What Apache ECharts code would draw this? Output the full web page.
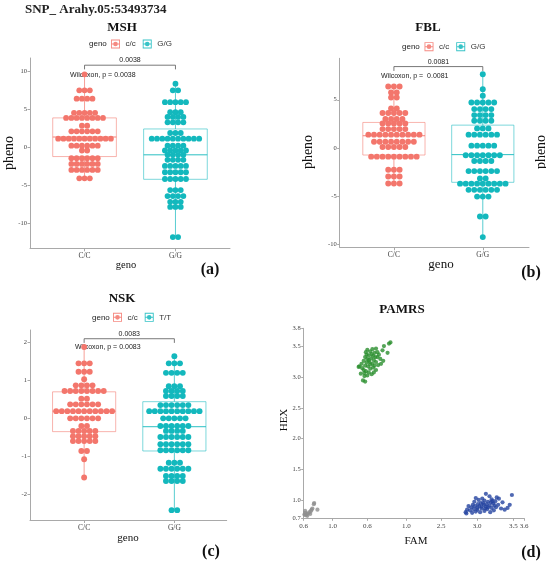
<!DOCTYPE html>
<html>
<head>
<meta charset="utf-8">
<script src="https://cdn.jsdelivr.net/npm/echarts@6/dist/echarts.min.js"></script>
<style>
  html, body { margin: 0; padding: 0; background: #fff; }
  #chart { width: 546px; height: 562px; }
</style>
</head>
<body>
<div id="chart"></div>
<script>
  // genotype groups sit at x = 1 and x = 2
  const genoLabels = ['C/C', 'G/G']
  // dot rows: [pheno, dots in row]
  const mshCC = [[9.65, 1], [7.53, 3], [6.43, 4], [4.57, 5], [3.9, 8], [2.88, 2], [2.13, 6], [1.16, 11], [0.23, 6], [-0.4, 2], [-1.41, 6], [-2.17, 6], [-2.96, 6], [-4.07, 3]]
  const mshGG = [[8.42, 1], [7.53, 2], [5.98, 5], [4.65, 3], [4.03, 4], [3.32, 4], [1.91, 3], [1.16, 10], [0.23, 4], [-0.4, 5], [-0.97, 4], [-1.63, 4], [-2.43, 5], [-3.27, 5], [-4.16, 5], [-5.62, 3], [-6.41, 4], [-7.17, 3], [-7.84, 3], [-11.82, 2]]
  const fblCC = [[6.37, 3], [5.75, 2], [5.23, 2], [4.1, 2], [3.62, 5], [3.0, 4], [2.55, 5], [1.96, 5], [1.38, 10], [0.64, 8], [0.1, 5], [-0.9, 9], [-2.26, 3], [-2.95, 3], [-3.69, 3]]
  const fblGG = [[7.65, 1], [6.1, 1], [5.41, 1], [4.72, 5], [4.03, 4], [3.41, 4], [2.82, 4], [2.03, 3], [1.38, 6], [0.24, 5], [-0.76, 7], [-1.35, 4], [-2.4, 6], [-3.17, 2], [-3.7, 9], [-4.34, 6], [-5.04, 3], [-7.1, 2], [-9.24, 1]]
  const nskCC = [[1.88, 1], [1.45, 3], [1.23, 3], [1.03, 1], [0.87, 4], [0.72, 8], [0.52, 2], [0.37, 6], [0.19, 11], [0.0, 6], [-0.2, 2], [-0.33, 5], [-0.47, 5], [-0.6, 5], [-0.86, 2], [-1.08, 1], [-1.56, 1]]
  const nskGG = [[1.64, 1], [1.45, 3], [1.2, 4], [0.85, 3], [0.72, 4], [0.59, 4], [0.35, 6], [0.19, 10], [0.0, 5], [-0.2, 6], [-0.33, 4], [-0.49, 6], [-0.68, 6], [-0.84, 6], [-1.17, 3], [-1.33, 6], [-1.52, 4], [-1.65, 4], [-2.42, 2]]
  // box stats per group: [low whisker, q1, median, q3, high whisker]
  const mshBox = [[-4.07, -1.2, 1.38, 3.9, 9.65], [-11.82, -4.2, -0.97, 2.44, 8.42]]
  const fblBox = [[-3.69, -0.73, 1.27, 2.65, 6.37], [-9.24, -3.56, -0.69, 2.37, 7.65]]
  const nskBox = [[-1.56, -0.35, 0.19, 0.7, 1.88], [-2.42, -0.86, -0.22, 0.44, 1.64]]
  const pValues = ['0.0038', '0.0081', '0.0083']
  const wilcoxText = ['Wilcoxon, p = 0.0038', 'Wilcoxon, p =  0.0081', 'Wilcoxon, p = 0.0083']

  // PAMRS cluster plot: [FAM, HEX]
  const pamGreen = [[1.8, 3.57], [1.78, 3.55], [1.71, 3.51], [1.69, 3.44], [1.76, 3.4], [1.6, 3.47], [1.55, 3.46], [1.48, 3.45], [1.46, 3.41], [1.52, 3.42], [1.58, 3.4], [1.64, 3.37], [1.66, 3.3], [1.62, 3.33], [1.56, 3.35], [1.5, 3.36], [1.45, 3.33], [1.48, 3.3], [1.53, 3.31], [1.57, 3.28], [1.6, 3.25], [1.67, 3.22], [1.7, 3.27], [1.63, 3.2], [1.55, 3.22], [1.51, 3.25], [1.47, 3.24], [1.43, 3.27], [1.4, 3.22], [1.37, 3.18], [1.41, 3.15], [1.45, 3.19], [1.49, 3.18], [1.52, 3.14], [1.56, 3.16], [1.6, 3.12], [1.57, 3.08], [1.54, 3.05], [1.5, 3.08], [1.46, 3.1], [1.43, 3.12], [1.48, 3.03], [1.44, 3.02], [1.42, 2.95], [1.45, 2.93], [1.39, 3.06], [1.36, 3.17], [1.5, 3.28], [1.54, 3.38], [1.59, 3.33], [1.52, 3.21], [1.47, 3.37], [1.62, 3.41], [1.58, 3.19], [1.44, 3.07]]
  const pamBlue = [[3.48, 1.08], [3.45, 0.92], [3.42, 0.87], [3.35, 0.96], [3.3, 1.02], [3.27, 1.04], [3.25, 0.98], [3.22, 0.94], [3.2, 1.01], [3.17, 1.06], [3.12, 1.1], [3.15, 0.97], [3.1, 0.99], [3.07, 1.02], [3.05, 0.95], [3.02, 1.0], [2.98, 1.03], [2.96, 0.97], [2.94, 0.92], [2.92, 0.88], [2.88, 0.9], [2.86, 0.84], [2.84, 0.8], [2.85, 0.78], [2.9, 0.83], [2.95, 0.85], [3.0, 0.87], [3.03, 0.9], [3.06, 0.86], [3.09, 0.92], [3.12, 0.89], [3.14, 0.85], [3.17, 0.91], [3.2, 0.87], [3.23, 0.83], [3.26, 0.88], [3.29, 0.92], [3.33, 0.86], [3.38, 0.84], [3.18, 0.8], [3.1, 0.82], [3.04, 0.8], [2.98, 0.81], [2.93, 0.79], [3.08, 0.95], [3.13, 0.93], [3.01, 0.93], [3.19, 0.96], [3.24, 0.91], [2.97, 0.9], [3.06, 0.89], [3.15, 0.88], [3.11, 0.86], [3.0, 0.84], [3.21, 0.98]]
  const pamGrey = [[0.61, 0.76], [0.62, 0.79], [0.63, 0.75], [0.64, 0.77], [0.66, 0.78], [0.68, 0.8], [0.7, 0.82], [0.71, 0.84], [0.72, 0.86], [0.74, 0.93], [0.745, 0.95], [0.79, 0.84], [0.62, 0.82], [0.65, 0.74], [0.69, 0.77]]
  // the FAM axis is broken, so its labels do not follow the scale
  const famTickPos = [0.6, 1.0, 1.48, 2.02, 2.5, 3.0, 3.5, 3.65]
  const famTickText = ['0.6', '1.0', '0.6', '1.0', '2.5', '3.0', '3.5', '3.6']
  const hexTicks = [0.7, 1.0, 1.5, 2.0, 2.5, 3.0, 3.5, 3.8]

  const RED = '#F3766C'
  const TEAL = '#13B8BD'
  const SERIF = '"Liberation Serif", "DejaVu Serif", serif'
  const SANS = '"Liberation Sans", Arial, sans-serif'
  const AXIS_COLOR = '#a9a9a9'
  const keyIcon = 'path://M0,0L10,0L10,10L0,10Z M1,1L1,9L9,9L9,1Z M1,4.5L9,4.5L9,5.5L1,5.5Z M5,2.4A2.6,2.6,0,1,1,5,7.6A2.6,2.6,0,1,1,5,2.4Z'

  // stack each row of dots side by side around the group centre
  function swarm(rows, center, step) {
    const pts = []
    rows.forEach(([v, n]) => {
      for (let i = 0; i < n; i++) pts.push([center + (i - (n - 1) / 2) * step, v])
    })
    return pts
  }

  function boxSeries(idx, stats) {
    const colors = [RED, TEAL]
    return {
      type: 'custom',
      xAxisIndex: idx,
      yAxisIndex: idx,
      silent: true,
      z: 1,
      data: stats.map((s, i) => [i + 1, ...s, 0.35]),
      renderItem(params, api) {
        const x = api.value(0)
        const hw = api.value(6)
        const lo = api.coord([x, api.value(1)])
        const q1 = api.coord([x, api.value(2)])
        const md = api.coord([x, api.value(3)])
        const q3 = api.coord([x, api.value(4)])
        const hi = api.coord([x, api.value(5)])
        const left = api.coord([x - hw, 0])[0]
        const right = api.coord([x + hw, 0])[0]
        const c = colors[params.dataIndex]
        return {
          type: 'group',
          children: [
            { type: 'line', shape: { x1: lo[0], y1: lo[1], x2: lo[0], y2: q1[1] }, style: { stroke: c, lineWidth: 1, opacity: 0.7 } },
            { type: 'line', shape: { x1: hi[0], y1: hi[1], x2: hi[0], y2: q3[1] }, style: { stroke: c, lineWidth: 1, opacity: 0.7 } },
            { type: 'rect', shape: { x: left, y: q3[1], width: right - left, height: q1[1] - q3[1] }, style: { fill: 'none', stroke: c, lineWidth: 1, opacity: 0.55 } },
            { type: 'line', shape: { x1: left, y1: md[1], x2: right, y2: md[1] }, style: { stroke: c, lineWidth: 1, opacity: 0.9 } },
          ],
        }
      },
    }
  }

  function bracketSeries(idx, top, tick) {
    return {
      type: 'custom',
      xAxisIndex: idx,
      yAxisIndex: idx,
      silent: true,
      z: 3,
      data: [[1, 2, top, tick]],
      renderItem(params, api) {
        const a = api.coord([api.value(0), api.value(3)])
        const b = api.coord([api.value(0), api.value(2)])
        const c = api.coord([api.value(1), api.value(2)])
        const d = api.coord([api.value(1), api.value(3)])
        return {
          type: 'group',
          children: [
            { type: 'polyline', shape: { points: [a, b, c, d] }, style: { stroke: '#555', lineWidth: 0.8, fill: 'none' } },
            { type: 'text', style: { text: pValues[idx], x: (b[0] + c[0]) / 2, y: b[1] - 1.5, textAlign: 'center', textVerticalAlign: 'bottom', align: 'center', verticalAlign: 'bottom', font: '7px ' + SANS, fill: '#222' } },
          ],
        }
      },
    }
  }

  function dotSeries(idx, name, rows, center, step, size, color) {
    return {
      type: 'scatter',
      name: name,
      xAxisIndex: idx,
      yAxisIndex: idx,
      symbolSize: size,
      z: 2,
      itemStyle: { color: color, opacity: 1 },
      emphasis: { disabled: true },
      data: swarm(rows, center, step),
    }
  }

  function genoXAxis(idx, min, max) {
    return {
      gridIndex: idx,
      type: 'value',
      min: min,
      max: max,
      axisLine: { show: true, onZero: false, lineStyle: { color: AXIS_COLOR, width: 1 } },
      axisTick: { show: true, customValues: [1, 2], length: 3, lineStyle: { color: AXIS_COLOR } },
      axisLabel: { customValues: [1, 2], formatter: (v) => genoLabels[Math.round(v) - 1], fontSize: 7.5, fontFamily: SERIF, color: '#444', margin: 4 },
      splitLine: { show: false },
    }
  }

  function phenoYAxis(idx, min, max, ticks) {
    return {
      gridIndex: idx,
      type: 'value',
      min: min,
      max: max,
      axisLine: { show: true, onZero: false, lineStyle: { color: AXIS_COLOR, width: 1 } },
      axisTick: { show: true, customValues: ticks, length: 2.5, lineStyle: { color: AXIS_COLOR } },
      axisLabel: { customValues: ticks, fontSize: 6.5, fontFamily: SERIF, color: '#444', margin: 3 },
      splitLine: { show: false },
    }
  }

  function txt(text, x, y, font, extra) {
    return Object.assign({
      type: 'text',
      x: x,
      y: y,
      silent: true,
      style: { text: text, font: font, fill: '#111', textAlign: 'center', textVerticalAlign: 'middle', align: 'center', verticalAlign: 'middle' },
    }, extra || {})
  }

  function leftTxt(text, x, y, font) {
    return {
      type: 'text',
      x: x,
      y: y,
      silent: true,
      style: { text: text, font: font, fill: '#222', textAlign: 'left', textVerticalAlign: 'middle', align: 'left', verticalAlign: 'middle' },
    }
  }

  const legendBase = {
    orient: 'horizontal',
    itemWidth: 10,
    itemHeight: 9,
    itemGap: 7,
    padding: 0,
    icon: keyIcon,
    selectedMode: false,
    itemStyle: { opacity: 0.85 },
    textStyle: { fontSize: 8, fontFamily: SANS, color: '#333' },
  }

  const chart = echarts.init(document.getElementById('chart'), null, { renderer: 'canvas' })

  const option = {
    backgroundColor: '#fff',
    animation: false,
    grid: [
      { left: 30, top: 58, width: 200, height: 190.3, outerBoundsMode: 'none', containLabel: false },
      { left: 339.7, top: 58.3, width: 189.3, height: 189, outerBoundsMode: 'none', containLabel: false },
      { left: 30, top: 330, width: 196.7, height: 190, outerBoundsMode: 'none', containLabel: false },
      { left: 303.7, top: 328.3, width: 220.5, height: 190, outerBoundsMode: 'none', containLabel: false },
    ],
    xAxis: [
      genoXAxis(0, 0.4, 2.6),
      genoXAxis(1, 0.39, 2.52),
      genoXAxis(2, 0.4, 2.58),
      {
        gridIndex: 3,
        type: 'value',
        min: 0.6,
        max: 3.65,
        axisLine: { show: true, onZero: false, lineStyle: { color: AXIS_COLOR, width: 1 } },
        axisTick: { show: true, customValues: famTickPos, length: 2.5, lineStyle: { color: AXIS_COLOR } },
        axisLabel: {
          customValues: famTickPos,
          formatter: (v) => famTickText[famTickPos.findIndex((p) => Math.abs(p - v) < 1e-6)],
          fontSize: 7,
          fontFamily: SERIF,
          color: '#444',
          margin: 4,
        },
        splitLine: { show: false },
      },
    ],
    yAxis: [
      phenoYAxis(0, -13.3, 11.8, [-10, -5, 0, 5, 10]),
      phenoYAxis(1, -10.3, 9.3, [-10, -5, 0, 5]),
      phenoYAxis(2, -2.68, 2.33, [-2, -1, 0, 1, 2]),
      {
        gridIndex: 3,
        type: 'value',
        min: 0.7,
        max: 3.8,
        axisLine: { show: true, onZero: false, lineStyle: { color: AXIS_COLOR, width: 1 } },
        axisTick: { show: true, customValues: hexTicks, length: 2.5, lineStyle: { color: AXIS_COLOR } },
        axisLabel: { customValues: hexTicks, formatter: (v) => v.toFixed(1), fontSize: 6.5, fontFamily: SERIF, color: '#444', margin: 3 },
        splitLine: { show: false },
      },
    ],
    legend: [
      Object.assign({ left: 111, top: 39.5, data: ['c/c', 'G/G'] }, legendBase),
      Object.assign({ left: 424.5, top: 42.2, data: ['c/c', 'G/G'] }, legendBase),
      Object.assign({ left: 113, top: 312.8, data: ['c/c', 'T/T'] }, legendBase),
    ],
    series: [
      boxSeries(0, mshBox),
      dotSeries(0, 'c/c', mshCC, 1, 0.058, 5.8, RED),
      dotSeries(0, 'G/G', mshGG, 2, 0.058, 5.8, TEAL),
      bracketSeries(0, 10.85, 10.3),
      boxSeries(1, fblBox),
      dotSeries(1, 'c/c', fblCC, 1, 0.064, 5.9, RED),
      dotSeries(1, 'G/G', fblGG, 2, 0.064, 5.9, TEAL),
      bracketSeries(1, 8.44, 7.99),
      boxSeries(2, nskBox),
      dotSeries(2, 'c/c', nskCC, 1, 0.062, 5.9, RED),
      dotSeries(2, 'T/T', nskGG, 2, 0.062, 5.9, TEAL),
      bracketSeries(2, 2.1, 1.99),
      { type: 'scatter', name: 'green', xAxisIndex: 3, yAxisIndex: 3, symbolSize: 4.2, itemStyle: { color: '#2A8F2E' }, emphasis: { disabled: true }, data: pamGreen },
      { type: 'scatter', name: 'blue', xAxisIndex: 3, yAxisIndex: 3, symbolSize: 4.2, itemStyle: { color: '#2444A0' }, emphasis: { disabled: true }, data: pamBlue },
      { type: 'scatter', name: 'grey', xAxisIndex: 3, yAxisIndex: 3, symbolSize: 4.2, itemStyle: { color: '#8E8E8E' }, emphasis: { disabled: true }, data: pamGrey },
    ],
    graphic: [
      leftTxt('SNP_ Arahy.05:53493734', 25, 10, 'bold 13px ' + SERIF),
      txt('MSH', 122, 28, 'bold 13px ' + SERIF),
      txt('FBL', 428, 27.5, 'bold 13px ' + SERIF),
      txt('NSK', 122, 299, 'bold 13px ' + SERIF),
      txt('PAMRS', 402, 310, 'bold 13px ' + SERIF),
      leftTxt('geno', 89, 44, '8px ' + SANS),
      leftTxt('geno', 402, 46.7, '8px ' + SANS),
      leftTxt('geno', 92, 317.3, '8px ' + SANS),
      leftTxt(wilcoxText[0], 70, 74.7, '7px ' + SANS),
      leftTxt(wilcoxText[1], 381, 76, '7px ' + SANS),
      leftTxt(wilcoxText[2], 75, 346.7, '7px ' + SANS),
      txt('pheno', 9, 153, '14px ' + SERIF, { rotation: Math.PI / 2 }),
      txt('pheno', 308, 152, '14px ' + SERIF, { rotation: Math.PI / 2 }),
      txt('pheno', 541, 152, '14px ' + SERIF, { rotation: Math.PI / 2 }),
      txt('geno', 126, 265, '10.5px ' + SERIF),
      txt('geno', 441, 265, '13px ' + SERIF),
      txt('geno', 128, 538.3, '11px ' + SERIF),
      txt('FAM', 416, 540.7, '11px ' + SERIF),
      txt('HEX', 284, 420, '11px ' + SERIF, { rotation: Math.PI / 2 }),
      txt('(a)', 210, 270, 'bold 16px ' + SERIF),
      txt('(b)', 531, 273, 'bold 16px ' + SERIF),
      txt('(c)', 211, 551.7, 'bold 16px ' + SERIF),
      txt('(d)', 531, 553.3, 'bold 16px ' + SERIF),
    ],
  }

  chart.setOption(option)
</script>
</body>
</html>
